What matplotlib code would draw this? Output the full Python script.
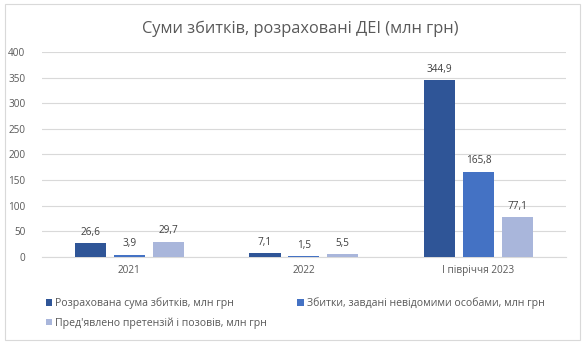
import numpy as np
import matplotlib.pyplot as plt
from matplotlib.patches import Rectangle

plt.rcParams['font.family'] = ['Open Sans', 'DejaVu Sans']

periods = ["2021", "2022", "І півріччя 2023"]
series_names = [
    "Розрахована сума збитків, млн грн",
    "Збитки, завдані невідомими особами, млн грн",
    "Пред'явлено претензій і позовів, млн грн",
]
calculated = [26.6, 7.1, 344.9]
unknown_persons = [3.9, 1.5, 165.8]
claims = [29.7, 5.5, 77.1]
y_ticks = [0, 50, 100, 150, 200, 250, 300, 350, 400]

colors = ["#2F5597", "#4472C4", "#A9B6DB"]
text_gray = "#595959"

fig = plt.figure(figsize=(5.85, 3.44), dpi=100)
fig.patches.append(Rectangle((0.008, 0.012), 0.984, 0.975, transform=fig.transFigure,
                             fill=False, edgecolor="#D9D9D9", linewidth=0.8))

ax = fig.add_axes([0.072, 0.253, 0.895, 0.596])

x = np.arange(len(periods))
width = 0.178
step = 0.223
bars = []
for i, (vals, c) in enumerate(zip([calculated, unknown_persons, claims], colors)):
    b = ax.bar(x + (i - 1) * step, vals, width, color=c, label=series_names[i], zorder=3)
    bars.append(b)
    for rect, v in zip(b, vals):
        ax.annotate(f"{v:.1f}".replace(".", ","),
                    (rect.get_x() + rect.get_width() / 2, rect.get_height()),
                    xytext=(0, 4), textcoords="offset points",
                    ha="center", va="bottom", fontsize=7.2, color="#404040")

ax.set_xlim(-0.5, 2.5)
ax.set_ylim(0, 400)
ax.set_yticks(y_ticks)
ax.set_xticks(x)
ax.set_xticklabels(periods)
ax.grid(axis="y", color="#D9D9D9", linewidth=0.8, zorder=0)
for s in ["top", "right", "left"]:
    ax.spines[s].set_visible(False)
ax.spines["bottom"].set_color("#D9D9D9")
ax.tick_params(axis="both", length=0, labelsize=7.2, labelcolor=text_gray)
ax.tick_params(axis="x", pad=6)
ax.tick_params(axis="y", pad=12)

fig.text(0.513, 0.917, "Суми збитків, розраховані ДЕІ (млн грн)", ha="center", va="center",
         fontsize=11.8, color=text_gray)

# row-wise order: first two series in the top row, third below
handles = [bars[0], bars[2], bars[1]]
labels = [series_names[0], series_names[2], series_names[1]]
fig.legend(handles, labels, loc="upper left", bbox_to_anchor=(0.062, 0.164), ncol=2,
           frameon=False, fontsize=7.6, labelcolor=text_gray, handlelength=0.6,
           handleheight=0.6, handletextpad=0.3, columnspacing=2.85, labelspacing=0.8)

fig.savefig("out.png", dpi=100)
